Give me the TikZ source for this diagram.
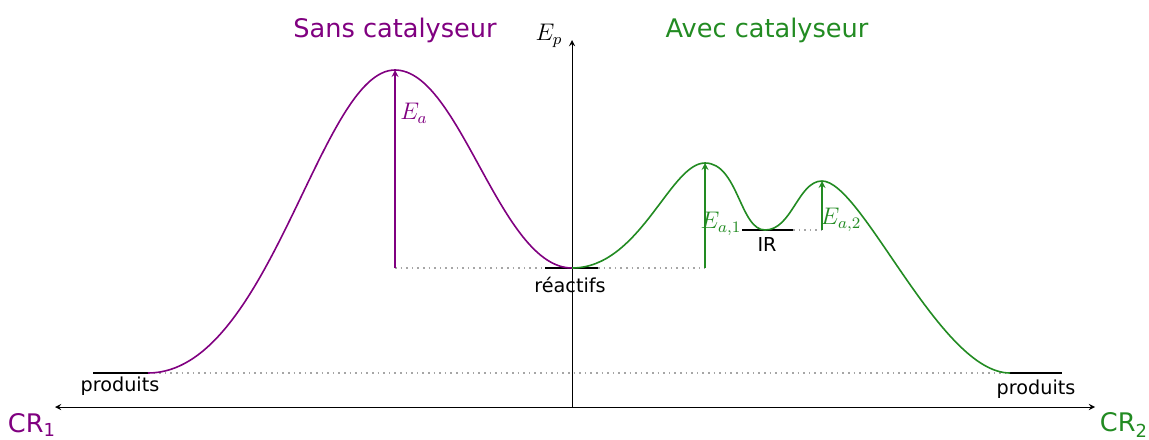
\documentclass[tikz,border=0pt]{standalone}
\usepackage{fontspec}
\setmainfont{DejaVu Sans}
\usepackage{amsmath}
\usepackage{tikz}
\usetikzlibrary{positioning}

\definecolor{sanscol}{RGB}{128,0,128}
\definecolor{aveccol}{RGB}{34,139,34}

\begin{document}
\begin{tikzpicture}[x=0.5pt,y=-0.5pt,>=stealth,
every node/.style={inner sep=1pt},
niveau/.style={line width=0.9pt},
pointille/.style={gray!70,dotted,line width=0.8pt},
fleche/.style={->,line width=0.55pt},
titre/.style={font=\fontsize{12.8}{15}\selectfont},
etiq/.style={font=\fontsize{9.6}{11}\selectfont},
energie/.style={font=\fontsize{12}{14}\selectfont}]

\useasboundingbox (0,0) rectangle (1149,439);

% axes
\coordinate (O) at (572,407);
\coordinate (gauche) at (55,407);
\coordinate (droite) at (1095,407);
\coordinate (haut) at (572,40);
\draw[<->] (gauche)--(droite);
\draw[->] (O)--(haut);
\node[energie] (ep) at (549,36) {$E_p$};
\node[titre,text=sanscol] (cr1) at (32,425) {CR\textsubscript{1}};
\node[titre,text=aveccol] (cr2) at (1124,425) {CR\textsubscript{2}};
\node[titre,text=sanscol] (sans) at (395,30) {Sans catalyseur};
\node[titre,text=aveccol] (avec) at (767,30) {Avec catalyseur};

% niveaux
\coordinate (p1a) at (93,373);
\coordinate (p1b) at (148,373);
\coordinate (p2a) at (1010,373);
\coordinate (p2b) at (1062,373);
\coordinate (ra) at (545,268);
\coordinate (rb) at (598,268);
\coordinate (r) at (572,268);
\coordinate (ira) at (742,230);
\coordinate (irb) at (793,230);
\coordinate (ir) at (765,230);
\coordinate (ts) at (395,70);
\coordinate (ts1) at (705,163);
\coordinate (ts2) at (822,181);

\draw[pointille] (p1b)--(p2a);
\draw[pointille] (395,268)--(ra);
\draw[pointille] (rb)--(705,268);
\draw[pointille] (irb)--(822,230);

\draw[niveau] (p1a)--(p1b);
\draw[niveau] (p2a)--(p2b);
\draw[niveau] (ra)--(rb);
\draw[niveau] (ira)--(irb);
\node[etiq] (prod1) at (120,386) {produits};
\node[etiq] (prod2) at (1036,389) {produits};
\node[etiq] (reac) at (570,285) {réactifs};
\node[etiq] (irlab) at (767,244) {IR};

% sans catalyseur
\draw[sanscol,line width=0.8pt] (p1b) .. controls (270,373) and (320,70) .. (ts)
  .. controls (460,70) and (500,268) .. (r);
\draw[sanscol,fleche] (395,268)--(ts);
\node[energie,text=sanscol] (ea) at (414,113) {$E_a$};

% avec catalyseur
\draw[aveccol,line width=0.8pt] (r) .. controls (640,268) and (670,163) .. (ts1)
  .. controls (738,163) and (740,230) .. (ir)
  .. controls (792,230) and (798,181) .. (ts2)
  .. controls (862,181) and (940,373) .. (p2a);
\draw[aveccol,fleche] (705,268)--(ts1);
\draw[aveccol,fleche] (822,230)--(ts2);
\node[energie,text=aveccol] (ea1) at (721,224) {$E_{a,1}$};
\node[energie,text=aveccol] (ea2) at (841,220) {$E_{a,2}$};

\end{tikzpicture}
\end{document}
